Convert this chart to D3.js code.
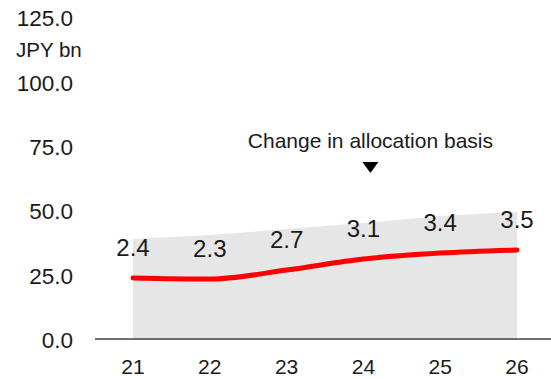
<!DOCTYPE html>
<html>
<head>
<meta charset="utf-8">
<script src="https://cdn.jsdelivr.net/npm/d3@7"></script>
<style>
  body { margin: 0; background: #fff; }
  text { font-family: "Liberation Sans", Arial, sans-serif; fill: #1a1a1a; }
</style>
</head>
<body>
<div id="chart"></div>
<script>
// fiscal years on the x axis
var years = ["21", "22", "23", "24", "25", "26"];
// grey area (total) and red line values, JPY bn
var areaValues = [38.9, 40.4, 42.8, 45.1, 47.8, 49.4];
var lineValues = [23.7, 23.3, 26.8, 31.1, 33.4, 34.6];
// labels printed above the line
var pointLabels = ["2.4", "2.3", "2.7", "3.1", "3.4", "3.5"];
var yTicks = [0, 25, 50, 75, 100, 125];
var annotation = "Change in allocation basis";
var unitLabel = "JPY bn";

var width = 551, height = 379;

var svg = d3.select("#chart")
    .append("svg")
    .attr("width", width)
    .attr("height", height);

var x = d3.scalePoint()
    .domain(years)
    .range([133, 517]);

var y = d3.scaleLinear()
    .domain([0, 125])
    .range([339, 17.5]);

var rows = years.map(function (d, i) {
    return {year: d, total: areaValues[i], value: lineValues[i], label: pointLabels[i]};
});

// grey area
var area = d3.area()
    .x(function (d) { return x(d.year); })
    .y0(y(0))
    .y1(function (d) { return y(d.total); });

svg.append("path")
    .datum(rows)
    .attr("d", area)
    .attr("fill", "#e6e6e6");

// baseline
svg.append("line")
    .attr("x1", 95)
    .attr("x2", width)
    .attr("y1", y(0))
    .attr("y2", y(0))
    .attr("stroke", "#404040")
    .attr("stroke-width", 1.5);

// red line
var line = d3.line()
    .x(function (d) { return x(d.year); })
    .y(function (d) { return y(d.value); })
    .curve(d3.curveMonotoneX);

svg.append("path")
    .datum(rows)
    .attr("d", line)
    .attr("fill", "none")
    .attr("stroke", "#ff0000")
    .attr("stroke-width", 5)
    .attr("stroke-linecap", "round");

// value labels
svg.selectAll(".vlabel")
    .data(rows)
    .enter()
    .append("text")
    .attr("class", "vlabel")
    .attr("x", function (d) { return x(d.year); })
    .attr("y", function (d) { return y(d.value) - 30; })
    .attr("dy", "0.35em")
    .attr("text-anchor", "middle")
    .style("font-size", "24px")
    .text(function (d) { return d.label; });

// x axis labels
svg.selectAll(".xlabel")
    .data(years)
    .enter()
    .append("text")
    .attr("class", "xlabel")
    .attr("x", function (d) { return x(d); })
    .attr("y", 367)
    .attr("dy", "0.35em")
    .attr("text-anchor", "middle")
    .style("font-size", "21px")
    .text(function (d) { return d; });

// y axis labels
svg.selectAll(".ylabel")
    .data(yTicks)
    .enter()
    .append("text")
    .attr("class", "ylabel")
    .attr("x", 73)
    .attr("y", function (d) { return y(d) + 1; })
    .attr("dy", "0.35em")
    .attr("text-anchor", "end")
    .style("font-size", "22.5px")
    .text(function (d) { return d.toFixed(1); });

svg.append("text")
    .attr("x", 16)
    .attr("y", 50)
    .attr("dy", "0.35em")
    .style("font-size", "20.5px")
    .text(unitLabel);

// annotation over FY24
var ax = x("24") + 7;
svg.append("text")
    .attr("x", ax)
    .attr("y", 141)
    .attr("dy", "0.35em")
    .attr("text-anchor", "middle")
    .style("font-size", "21px")
    .text(annotation);

svg.append("path")
    .attr("d", "M" + (ax - 8) + ",162L" + (ax + 8) + ",162L" + ax + ",173Z")
    .attr("fill", "#000");
</script>
</body>
</html>
